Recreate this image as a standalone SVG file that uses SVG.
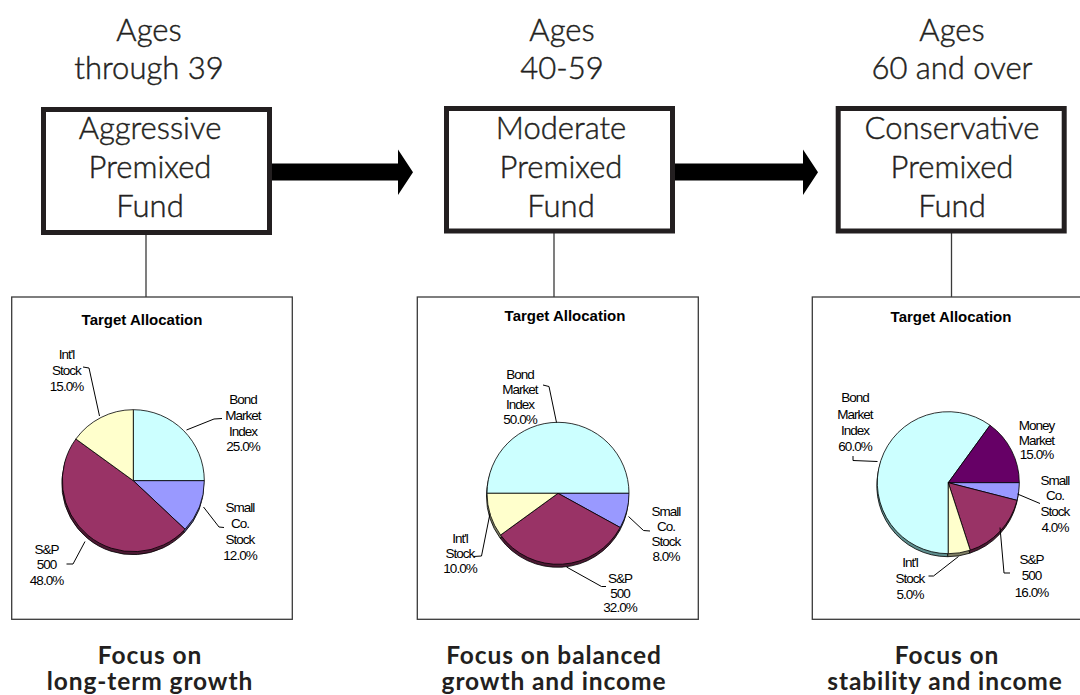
<svg xmlns="http://www.w3.org/2000/svg" xmlns:xlink="http://www.w3.org/1999/xlink" width="1080" height="695" viewBox="0 0 1080 695">
  <style>
    .age{font-family:Lato,"Open Sans",sans-serif;font-weight:300;font-size:31px;fill:#231f20;stroke:#231f20;stroke-width:0.45px;text-anchor:middle}
    .fund{fill:#fff;stroke:#231f20;stroke-width:5}
    .focus{font-family:Lato,"Open Sans",sans-serif;font-weight:bold;font-size:24.5px;letter-spacing:0.9px;fill:#231f20;text-anchor:middle}
    .panel{fill:#fff;stroke:#3a3a3a;stroke-width:1.3}
    .title{font-family:"Liberation Sans",Arial,sans-serif;font-weight:bold;font-size:15px;fill:#000;text-anchor:middle}
    .lbl{font-family:"Liberation Sans",Arial,sans-serif;font-size:13.5px;letter-spacing:-1px;fill:#000;text-anchor:middle}
    .lead{fill:none;stroke:#000;stroke-width:1}
    .link{stroke:#3a3a3a;stroke-width:1.3}
    .arrow{fill:#000}
    .slice{stroke:#000;stroke-width:0.8;stroke-linejoin:round}
    .bond{fill:#ccffff}.bond-d{fill:#5f8f8f}
    .small{fill:#9999ff}.small-d{fill:#4c4c80}
    .sp{fill:#993366}.sp-d{fill:#4c1933}
    .intl{fill:#ffffcc}.intl-d{fill:#808066}
    .money{fill:#660066}.money-d{fill:#330033}
  </style>
  <defs>
    <!-- pie slice outlines; fill comes from the referencing <use> -->
    <path id="a-bond" d="M133.3,480.7 L133.3,409.7 A71,71 0 0 1 204.3,480.7 Z"/>
    <path id="a-small" d="M133.3,480.7 L204.3,480.7 A71,71 0 0 1 185.06,529.3 Z"/>
    <path id="a-sp" d="M133.3,480.7 L185.06,529.3 A71,71 0 0 1 75.86,438.97 Z"/>
    <path id="a-intl" d="M133.3,480.7 L75.86,438.97 A71,71 0 0 1 133.3,409.7 Z"/>

    <path id="m-bond" d="M558,493.3 L487,493.3 A71,71 0 0 1 629,493.3 Z"/>
    <path id="m-small" d="M558,493.3 L629,493.3 A71,71 0 0 1 620.22,527.51 Z"/>
    <path id="m-sp" d="M558,493.3 L620.22,527.51 A71,71 0 0 1 500.56,535.03 Z"/>
    <path id="m-intl" d="M558,493.3 L500.56,535.03 A71,71 0 0 1 487,493.3 Z"/>

    <path id="c-bond" d="M948.3,482.7 L948.3,553.7 A71,71 0 1 1 990.03,425.26 Z"/>
    <path id="c-money" d="M948.3,482.7 L990.03,425.26 A71,71 0 0 1 1019.3,482.7 Z"/>
    <path id="c-small" d="M948.3,482.7 L1019.3,482.7 A71,71 0 0 1 1017.07,500.36 Z"/>
    <path id="c-sp" d="M948.3,482.7 L1017.07,500.36 A71,71 0 0 1 970.24,550.23 Z"/>
    <path id="c-intl" d="M948.3,482.7 L970.24,550.23 A71,71 0 0 1 948.3,553.7 Z"/>
  </defs>

  <rect width="1080" height="695" fill="#fff"/>

  <!-- connectors: fund-to-fund arrows and fund-to-chart links -->
  <g id="connectors">
    <polygon class="arrow" points="272,163.5 398,163.5 398,149.5 413,172.2 398,195 398,180.5 272,180.5"/>
    <polygon class="arrow" points="675,163.5 803,163.5 803,149.5 818,172.2 803,195 803,180.5 675,180.5"/>
    <line class="link" x1="146" y1="235" x2="146" y2="297"/>
    <line class="link" x1="554" y1="233" x2="554" y2="297"/>
    <line class="link" x1="951.5" y1="233" x2="951.5" y2="297"/>
  </g>

  <!-- age headings -->
  <g id="age-young">
    <text class="age" x="149" y="41">Ages</text>
    <text class="age" x="149" y="79">through 39</text>
  </g>
  <g id="age-middle">
    <text class="age" x="562" y="41">Ages</text>
    <text class="age" x="562" y="79">40-59</text>
  </g>
  <g id="age-senior">
    <text class="age" x="952" y="41">Ages</text>
    <text class="age" x="952" y="79">60 and over</text>
  </g>

  <!-- fund boxes -->
  <g id="fund-aggressive">
    <rect class="fund" x="43.5" y="109.5" width="226" height="123"/>
    <text class="age" x="150" y="139">Aggressive</text>
    <text class="age" x="150" y="178">Premixed</text>
    <text class="age" x="150" y="217">Fund</text>
  </g>
  <g id="fund-moderate">
    <rect class="fund" x="446.5" y="108.5" width="226" height="122.5"/>
    <text class="age" x="561" y="139">Moderate</text>
    <text class="age" x="561" y="178">Premixed</text>
    <text class="age" x="561" y="217">Fund</text>
  </g>
  <g id="fund-conservative">
    <rect class="fund" x="838.2" y="108.5" width="226" height="122.5"/>
    <text class="age" x="952" y="139">Conservative</text>
    <text class="age" x="952" y="178">Premixed</text>
    <text class="age" x="952" y="217">Fund</text>
  </g>

  <!-- allocation chart: aggressive -->
  <g id="chart-aggressive">
    <rect class="panel" x="11.7" y="297" width="280.6" height="322.3"/>
    <text class="title" x="142" y="325">Target Allocation</text>
    <g transform="translate(-0.5,3)">
      <use xlink:href="#a-bond" class="slice bond-d"/>
      <use xlink:href="#a-small" class="slice small-d"/>
      <use xlink:href="#a-sp" class="slice sp-d"/>
      <use xlink:href="#a-intl" class="slice intl-d"/>
    </g>
    <use xlink:href="#a-bond" class="slice bond"/>
    <use xlink:href="#a-small" class="slice small"/>
    <use xlink:href="#a-sp" class="slice sp"/>
    <use xlink:href="#a-intl" class="slice intl"/>
    <polyline class="lead" points="83,367 89,368 99.5,416"/>
    <polyline class="lead" points="186.5,430 214,419 222,418.5"/>
    <polyline class="lead" points="203.5,507 219,527 224,527.5"/>
    <polyline class="lead" points="66.5,564 73,564 85,541.5"/>
    <text class="lbl" x="66.5" y="359">Int'l</text>
    <text class="lbl" x="66.5" y="375">Stock</text>
    <text class="lbl" x="66.5" y="390.5">15.0%</text>
    <text class="lbl" x="243" y="404">Bond</text>
    <text class="lbl" x="243" y="420">Market</text>
    <text class="lbl" x="243" y="435.5">Index</text>
    <text class="lbl" x="243" y="451">25.0%</text>
    <text class="lbl" x="240" y="512">Small</text>
    <text class="lbl" x="240" y="528">Co.</text>
    <text class="lbl" x="240" y="544">Stock</text>
    <text class="lbl" x="240" y="560">12.0%</text>
    <text class="lbl" x="46.5" y="553.5">S&amp;P</text>
    <text class="lbl" x="46.5" y="569">500</text>
    <text class="lbl" x="46.5" y="585">48.0%</text>
  </g>

  <!-- allocation chart: moderate -->
  <g id="chart-moderate">
    <rect class="panel" x="417.3" y="297" width="281" height="322.3"/>
    <text class="title" x="565" y="321">Target Allocation</text>
    <g transform="translate(-0.5,3)">
      <use xlink:href="#m-bond" class="slice bond-d"/>
      <use xlink:href="#m-small" class="slice small-d"/>
      <use xlink:href="#m-sp" class="slice sp-d"/>
      <use xlink:href="#m-intl" class="slice intl-d"/>
    </g>
    <use xlink:href="#m-bond" class="slice bond"/>
    <use xlink:href="#m-small" class="slice small"/>
    <use xlink:href="#m-sp" class="slice sp"/>
    <use xlink:href="#m-intl" class="slice intl"/>
    <polyline class="lead" points="543,385 549,386.5 556.5,422.5"/>
    <polyline class="lead" points="628.5,516.5 643.5,530.5 650,531"/>
    <polyline class="lead" points="473.5,556.5 481.5,556 490,513.5"/>
    <polyline class="lead" points="566.5,567 601.5,586.5 606,586.5"/>
    <text class="lbl" x="520" y="378.5">Bond</text>
    <text class="lbl" x="520" y="393.5">Market</text>
    <text class="lbl" x="520" y="408.5">Index</text>
    <text class="lbl" x="520" y="423.5">50.0%</text>
    <text class="lbl" x="666" y="516">Small</text>
    <text class="lbl" x="666" y="531">Co.</text>
    <text class="lbl" x="666" y="546">Stock</text>
    <text class="lbl" x="666" y="561">8.0%</text>
    <text class="lbl" x="460" y="543">Int'l</text>
    <text class="lbl" x="460" y="558">Stock</text>
    <text class="lbl" x="460" y="573">10.0%</text>
    <text class="lbl" x="620" y="583">S&amp;P</text>
    <text class="lbl" x="620" y="598">500</text>
    <text class="lbl" x="620" y="612">32.0%</text>
  </g>

  <!-- allocation chart: conservative -->
  <g id="chart-conservative">
    <rect class="panel" x="812.3" y="297" width="300" height="322.3"/>
    <text class="title" x="951" y="322">Target Allocation</text>
    <g transform="translate(-0.5,3)">
      <use xlink:href="#c-bond" class="slice bond-d"/>
      <use xlink:href="#c-money" class="slice money-d"/>
      <use xlink:href="#c-small" class="slice small-d"/>
      <use xlink:href="#c-sp" class="slice sp-d"/>
      <use xlink:href="#c-intl" class="slice intl-d"/>
    </g>
    <use xlink:href="#c-bond" class="slice bond"/>
    <use xlink:href="#c-money" class="slice money"/>
    <use xlink:href="#c-small" class="slice small"/>
    <use xlink:href="#c-sp" class="slice sp"/>
    <use xlink:href="#c-intl" class="slice intl"/>
    <polyline class="lead" points="853,456 853,460.5 877.5,461.5"/>
    <polyline class="lead" points="1017.5,494 1040,503.5"/>
    <polyline class="lead" points="1000,527.5 1004,573 1010,573"/>
    <polyline class="lead" points="928.5,576 933.5,576 958.5,556.5"/>
    <text class="lbl" x="855" y="402">Bond</text>
    <text class="lbl" x="855" y="418.5">Market</text>
    <text class="lbl" x="855" y="435">Index</text>
    <text class="lbl" x="855" y="450.5">60.0%</text>
    <text class="lbl" x="1036.5" y="430">Money</text>
    <text class="lbl" x="1036.5" y="444.5">Market</text>
    <text class="lbl" x="1036.5" y="459">15.0%</text>
    <text class="lbl" x="1055" y="484.5">Small</text>
    <text class="lbl" x="1055" y="500">Co.</text>
    <text class="lbl" x="1055" y="516">Stock</text>
    <text class="lbl" x="1055" y="531.5">4.0%</text>
    <text class="lbl" x="1031.5" y="563.5">S&amp;P</text>
    <text class="lbl" x="1031.5" y="580">500</text>
    <text class="lbl" x="1031.5" y="596.5">16.0%</text>
    <text class="lbl" x="910" y="567">Int'l</text>
    <text class="lbl" x="910" y="583">Stock</text>
    <text class="lbl" x="910" y="598.5">5.0%</text>
  </g>

  <!-- focus captions (two-line blocks) -->
  <g id="focus-growth">
    <text class="focus" x="150" y="664">Focus on<tspan x="150" dy="26">long-term growth</tspan></text>
  </g>
  <g id="focus-balanced">
    <text class="focus" x="554" y="664">Focus on balanced<tspan x="554" dy="26">growth and income</tspan></text>
  </g>
  <g id="focus-stability">
    <text class="focus" x="947" y="664">Focus on<tspan x="945" dy="26">stability and income</tspan></text>
  </g>
</svg>
